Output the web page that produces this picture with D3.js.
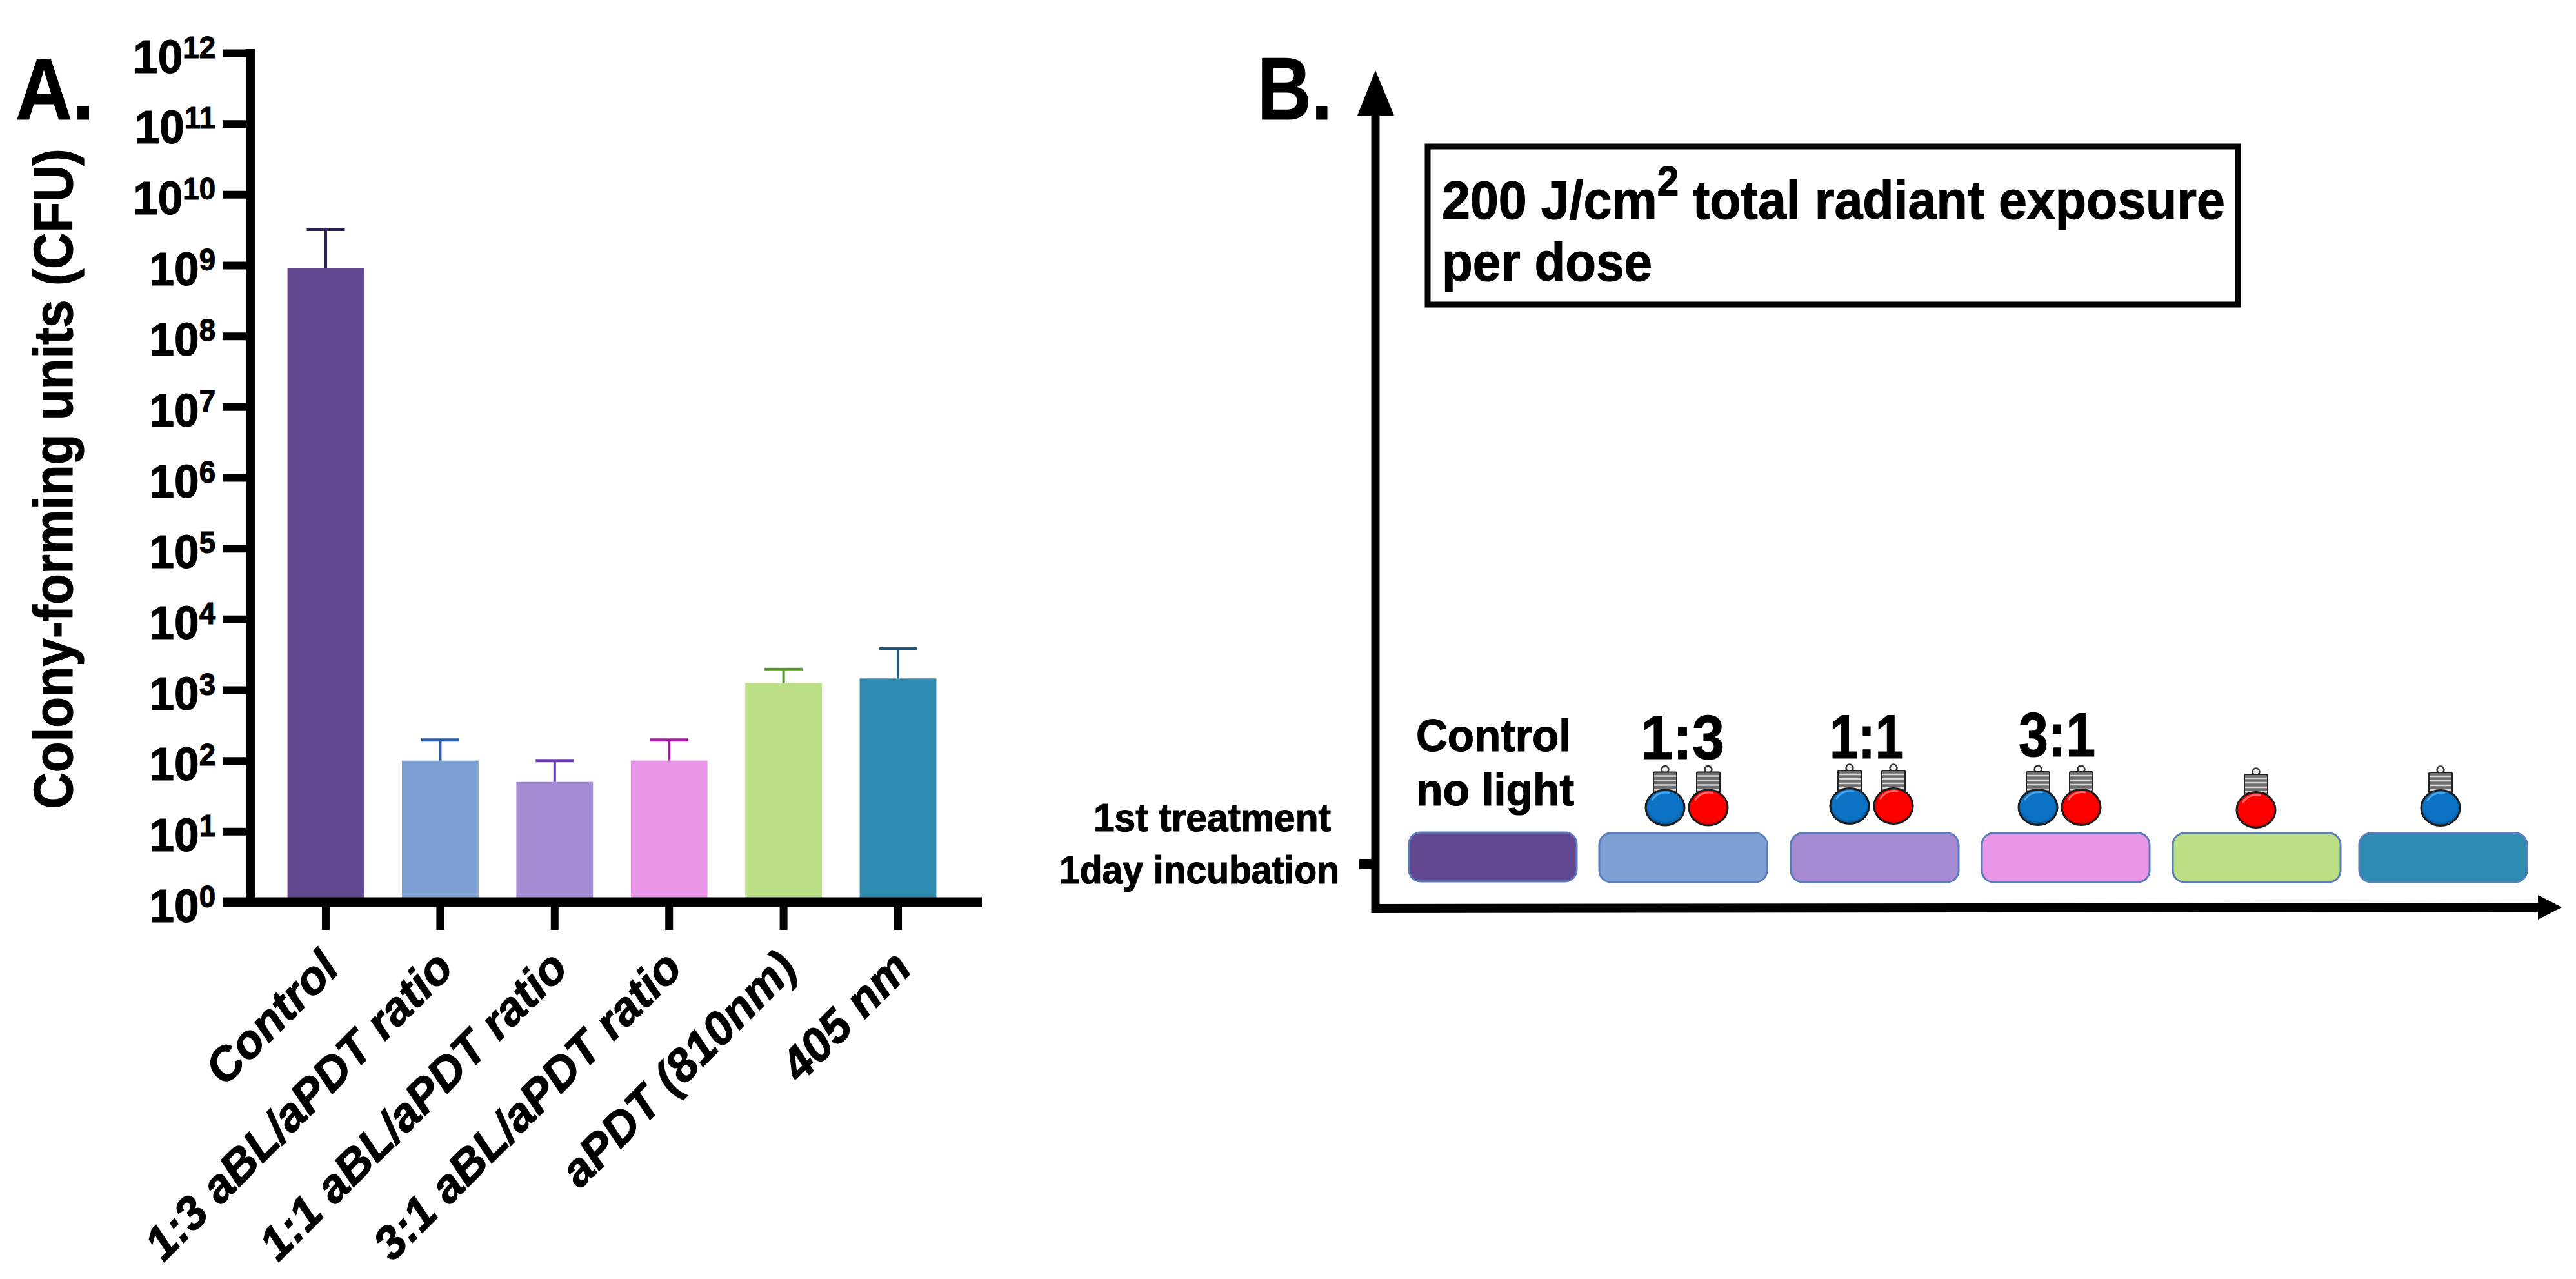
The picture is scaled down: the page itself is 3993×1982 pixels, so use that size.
<!DOCTYPE html>
<html>
<head>
<meta charset="utf-8">
<script src="https://cdn.jsdelivr.net/npm/d3@7/dist/d3.min.js"></script>
<style>
html,body{margin:0;padding:0;background:#fff;}
svg{display:block;}
text{font-family:"Liberation Sans",Arial,sans-serif;font-weight:700;fill:#000;stroke:#000;stroke-width:1.2px;}
</style>
</head>
<body>
<svg id="chart" width="3993" height="1982" viewBox="0 0 3993 1982"></svg>
<script>
// ---- data ----
const categories = ["Control","1:3 aBL/aPDT ratio","1:1 aBL/aPDT ratio","3:1 aBL/aPDT ratio","aPDT (810nm)","405 nm"];
const means  = [9e8, 100, 50, 100, 1250, 1450];
const upperErrors = [3.2e9, 195, 100, 195, 1950, 3800];
const barColors = ["#61478f","#7ea1d5","#a58ad4","#e996e9","#bbdf85","#2e8aaf"];
const errorColors = ["#2f2255","#2a5ca6","#6a3fb4","#a0209c","#5c9a2c","#1f5a7e"];
const tickExponents = [0,1,2,3,4,5,6,7,8,9,10,11,12];
const yTitle = "Colony-forming units (CFU)";

const schemeCats = ["Control","1:3","1:1","3:1","aPDT","405"];
const schemeColors = barColors;
const schemeRatioLabels = ["","1:3","1:1","3:1","",""];
const schemeLights = [[],["blue","red"],["blue","red"],["blue","red"],["red"],["blue"]];

// ---- layout ----
const svg = d3.select("#chart");
const INK = "#000";

const y = d3.scaleLog().domain([1,1e12]).range([1398,82]);
const x = d3.scaleBand().domain(categories).range([416.3,1480.7]).paddingInner(0.33).paddingOuter(0.165);

const panelA = svg.append("g");

// bars
panelA.selectAll("rect.bar").data(categories).join("rect")
  .attr("class","bar")
  .attr("x",d=>x(d)).attr("width",x.bandwidth())
  .attr("y",(d,i)=>y(means[i])).attr("height",(d,i)=>y(1)-y(means[i]))
  .attr("fill",(d,i)=>barColors[i]);

// error bars
const capW = 59;
categories.forEach((c,i)=>{
  const cx = x(c)+x.bandwidth()/2;
  const g = panelA.append("g").attr("stroke",errorColors[i]).attr("stroke-width",4).attr("fill","none");
  g.append("line").attr("x1",cx).attr("x2",cx).attr("y1",y(means[i])).attr("y2",y(upperErrors[i]));
  g.append("line").attr("x1",cx-capW/2).attr("x2",cx+capW/2).attr("y1",y(upperErrors[i])).attr("y2",y(upperErrors[i])).attr("stroke-width",5);
});

// y axis
const yAxisG = panelA.append("g").attr("transform","translate(388,0)")
  .call(d3.axisLeft(y).tickValues(tickExponents.map(e=>Math.pow(10,e))).tickSize(43).tickSizeOuter(0).tickFormat(""));
yAxisG.select(".domain").remove();
yAxisG.selectAll(".tick line").attr("stroke",INK).attr("stroke-width",12);
yAxisG.append("line").attr("x1",0).attr("x2",0).attr("y1",y(1e12)-6).attr("y2",y(1)).attr("stroke",INK).attr("stroke-width",14);
yAxisG.selectAll(".tick").each(function(v){
  const e = Math.round(Math.log10(v));
  const t = d3.select(this).append("text").attr("transform","translate(-54,30) scale(0.95,1)").attr("x",0).attr("y",0).attr("text-anchor","end").style("font-size","73px");
  t.append("tspan").text("10");
  t.append("tspan").attr("dy",-23).style("font-size","48px").text(e);
});

// x axis
const xAxisG = panelA.append("g").attr("transform","translate(0,1398)")
  .call(d3.axisBottom(x).tickSize(43).tickSizeOuter(0).tickFormat(""));
xAxisG.select(".domain").remove();
xAxisG.selectAll(".tick line").attr("stroke",INK).attr("stroke-width",12);
xAxisG.append("line").attr("x1",345).attr("x2",1522).attr("y1",0).attr("y2",0).attr("stroke",INK).attr("stroke-width",15);
xAxisG.selectAll(".tick").append("text")
  .attr("transform","translate(24,106) rotate(-45)")
  .attr("text-anchor","end")
  .style("font-size","72px").style("font-style","italic")
  .text(d=>d);

// helper for fitted text
function fitted(parent,str,xs,base,w,size){
  return parent.append("text").attr("x",xs).attr("y",base).style("font-size",size+"px")
    .attr("textLength",w).attr("lengthAdjust","spacingAndGlyphs").text(str);
}

// y title
panelA.append("text")
  .attr("transform","translate(112,742) rotate(-90)")
  .attr("text-anchor","middle").style("font-size","86px")
  .attr("textLength",1023).attr("lengthAdjust","spacingAndGlyphs")
  .text(yTitle);

fitted(panelA,"A.",24,185,122,135);

// ---- panel B ----
const panelB = svg.append("g");
fitted(panelB,"B.",1949,185,116,138);

// arrows
panelB.append("line").attr("x1",2132).attr("x2",2132).attr("y1",170).attr("y2",1415).attr("stroke",INK).attr("stroke-width",13);
panelB.append("path").attr("d",d3.line()([[2132,109],[2161,179],[2104,179]])+"Z").attr("fill",INK);
panelB.append("line").attr("x1",2126).attr("x2",3940).attr("y1",1408).attr("y2",1406).attr("stroke",INK).attr("stroke-width",14);
panelB.append("path").attr("d",d3.line()([[3971,1406],[3934,1387],[3934,1425]])+"Z").attr("fill",INK);
panelB.append("rect").attr("x",2107).attr("y",1331).attr("width",22).attr("height",16).attr("fill",INK);

// note box
panelB.append("rect").attr("x",2213).attr("y",227).attr("width",1256).attr("height",245)
  .attr("fill","#fff").attr("stroke",INK).attr("stroke-width",9);
const note = panelB.append("text").attr("x",2235).attr("y",339).style("font-size","84px")
  .attr("textLength",1214).attr("lengthAdjust","spacingAndGlyphs");
note.append("tspan").text("200 J/cm");
note.append("tspan").attr("dy",-36).style("font-size","64px").text("2");
note.append("tspan").attr("dy",36).text(" total radiant exposure");
fitted(panelB,"per dose",2235,435,326,84);

// side labels
fitted(panelB,"1st treatment",1695,1288,368,61);
fitted(panelB,"1day incubation",1642,1369,434,61);
fitted(panelB,"Control",2195,1164,240,70);
fitted(panelB,"no light",2195,1248,245,70);

// scheme boxes
const boxX = d3.scaleOrdinal().domain(schemeCats).range([2184,2479,2776,3072,3368,3657]);
const boxW = 260;
panelB.selectAll("rect.scheme").data(schemeCats).join("rect")
  .attr("class","scheme")
  .attr("x",d=>boxX(d)).attr("y",(d,i)=>i===0?1290:1291)
  .attr("width",boxW).attr("height",76).attr("rx",18).attr("ry",18)
  .attr("fill",(d,i)=>schemeColors[i]).attr("stroke","#5b7db8").attr("stroke-width",3);

// ratio labels
const ratioPos = {"1:3":[2543,1176,130],"1:1":[2836,1175,115],"3:1":[3129,1172,119]};
schemeRatioLabels.filter(Boolean).forEach(l=>{
  const p = ratioPos[l];
  fitted(panelB,l,p[0],p[1],p[2],97);
});

// bulbs
const defs = svg.append("defs");
[["blue","#0b72c4","#0a5a9c","#052a4a"],["red","#ff0000","#e60000","#6e0000"]].forEach(([n,a,b,c])=>{
  const g = defs.append("radialGradient").attr("id","bulb-"+n).attr("cx","50%").attr("cy","45%").attr("r","55%");
  g.append("stop").attr("offset","0%").attr("stop-color",a);
  g.append("stop").attr("offset","78%").attr("stop-color",a);
  g.append("stop").attr("offset","92%").attr("stop-color",b);
  g.append("stop").attr("offset","100%").attr("stop-color",c);
});
function bulb(cx,cy,kind){
  const g = panelB.append("g").attr("transform",`translate(${cx},${cy})`);
  g.append("circle").attr("cx",0).attr("cy",-59).attr("r",5.5).attr("fill","#eee").attr("stroke","#333").attr("stroke-width",2.5);
  g.append("rect").attr("x",-18).attr("y",-55).attr("width",36).attr("height",32).attr("rx",2).attr("fill","#6e6e6e").attr("stroke","#222").attr("stroke-width",2);
  d3.range(4).forEach(k=>{
    g.append("line").attr("x1",-17).attr("x2",17).attr("y1",-49+k*7).attr("y2",-49+k*7).attr("stroke","#d8d8d8").attr("stroke-width",2.5);
  });
  g.append("ellipse").attr("rx",30).attr("ry",27.5).attr("fill",`url(#bulb-${kind})`).attr("stroke","#1c1c1c").attr("stroke-width",3);
  g.append("path").attr("d","M-20,-12 A24,22 0 0 1 6,-23").attr("fill","none").attr("stroke",kind==="blue"?"#4ba3e8":"#ff6a6a").attr("stroke-width",3).attr("stroke-linecap","round");
}
const bulbOffsets = {"1:3":[-28,39],"1:1":[-39,29],"3:1":[-43,24],"aPDT":[-1],"405":[-4]};
const bulbHeights = {"1:3":1251.5,"1:1":1249,"3:1":1251,"aPDT":1255,"405":1252};
schemeCats.forEach((c,i)=>{
  schemeLights[i].forEach((k,j)=>{
    bulb(boxX(c)+boxW/2+bulbOffsets[c][j],bulbHeights[c],k);
  });
});
</script>
</body>
</html>
